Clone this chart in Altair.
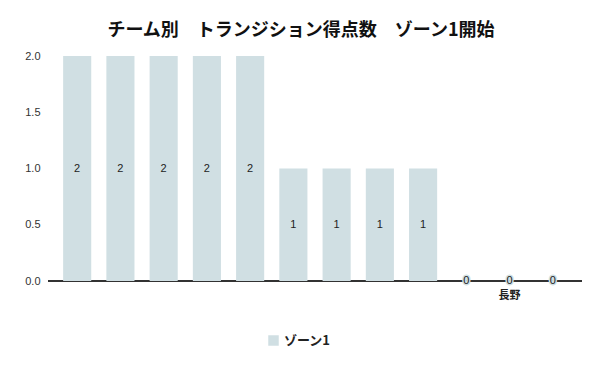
import altair as alt
import pandas as pd

teams = ["チーム1", "チーム2", "チーム3", "チーム4", "チーム5", "チーム6",
         "チーム7", "チーム8", "チーム9", "チーム10", "長野", "チーム12"]
values = [2, 2, 2, 2, 2, 1, 1, 1, 1, 0, 0, 0]
series = ["ゾーン1"] * len(teams)

df = pd.DataFrame({"team": teams, "value": values, "series": series})
df["mid"] = df["value"] / 2

font = "Noto Sans CJK JP"
bar_color = "#d0dfe3"

x = alt.X("team:N", sort=teams, title=None,
          scale=alt.Scale(paddingInner=0.35, paddingOuter=0.35),
          axis=alt.Axis(labelAngle=0, ticks=False, domain=False,
                        labelExpr="datum.label == '長野' ? datum.label : ''",
                        labelFont=font, labelFontWeight="bold", labelFontSize=11,
                        labelColor="#222222", labelPadding=8))

zero_rule = alt.Chart(df).mark_rule(color="#333333", strokeWidth=1.2).encode(y=alt.datum(0))

bars = alt.Chart(df).mark_bar(color=bar_color).encode(
    x=x,
    y=alt.Y("value:Q", title=None, scale=alt.Scale(domain=[0, 2]),
            axis=alt.Axis(values=[0, 0.5, 1, 1.5, 2], format=".1f", ticks=False,
                          domain=False, gridColor="#cccccc", labelFont="Liberation Sans",
                          labelFontSize=11, labelColor="#333333", labelPadding=8)),
    color=alt.Color("series:N", title=None,
                    scale=alt.Scale(domain=["ゾーン1"], range=[bar_color]),
                    legend=alt.Legend(orient="none", legendX=219, legendY=278,
                                      symbolType="square", symbolSize=110,
                                      labelFont=font, labelFontWeight="bold",
                                      labelFontSize=13, labelColor="#222222")),
)

halo = alt.Chart(df[df["value"] == 0]).mark_text(
    fontSize=11, font="Liberation Sans", stroke=bar_color, strokeWidth=3
).encode(x=alt.X("team:N", sort=teams), y="mid:Q", text="value:Q")

labels = alt.Chart(df).mark_text(
    fontSize=11, font="Liberation Sans", color="#222222"
).encode(x=alt.X("team:N", sort=teams), y="mid:Q", text="value:Q")

chart = alt.layer(zero_rule, bars, halo, labels).properties(
    width=534, height=225,
    title=alt.TitleParams("チーム別\u3000トランジション得点数\u3000ゾーン1開始",
                          font=font, fontSize=18, fontWeight="bold",
                          color="#111111", offset=10, dx=-14),
    autosize=alt.AutoSizeParams(type="none"),
    padding={"left": 40, "top": 48, "right": 10, "bottom": 80},
).configure_view(stroke=None)

chart.save("out.html", embed_options={"renderer": "svg", "actions": False})
